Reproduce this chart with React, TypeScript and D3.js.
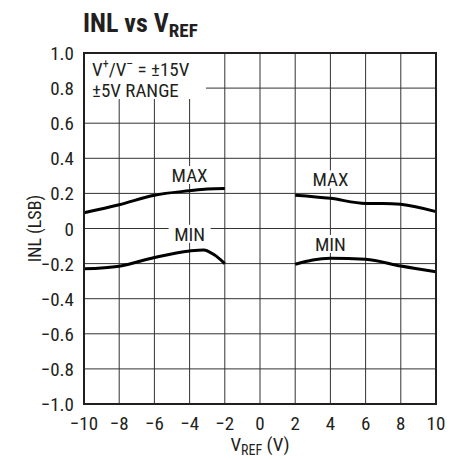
import React from "react";
import * as d3 from "d3";

// INL vs VREF, two segments per series (gap around 0V)
const vrefLeft = [-10, -8, -6, -4, -3, -2];
const maxLeft = [0.09, 0.135, 0.19, 0.215, 0.225, 0.228];
const vrefMinLeft = [-10, -8, -6, -4, -3.2, -2.6, -2];
const minLeft = [-0.23, -0.215, -0.165, -0.128, -0.122, -0.15, -0.2];
const vrefRight = [2, 4, 6, 7, 8, 10];
const maxRight = [0.19, 0.172, 0.143, 0.143, 0.138, 0.096];
const vrefMinRight = [2, 3, 4, 6, 8, 10];
const minRight = [-0.204, -0.179, -0.17, -0.175, -0.214, -0.246];

const xTicks = [-10, -8, -6, -4, -2, 0, 2, 4, 6, 8, 10];
const yTicks = [1.0, 0.8, 0.6, 0.4, 0.2, 0, -0.2, -0.4, -0.6, -0.8, -1.0];

const W = 459;
const H = 460;
const FONT = "'Liberation Sans Narrow', 'Roboto Condensed', 'Arial Narrow', 'Liberation Sans', sans-serif";

const fmtY = (v: number) => (v === 0 ? "0" : v.toFixed(1).replace("-", "\u2212"));
const fmtX = (v: number) => String(v).replace("-", "\u2212");

export default function App() {
  const x = d3.scaleLinear().domain([-10, 10]).range([84, 436]);
  const y = d3.scaleLinear().domain([-1, 1]).range([404, 53]);

  const line = d3
    .line<[number, number]>()
    .x((d) => x(d[0]))
    .y((d) => y(d[1]))
    .curve(d3.curveMonotoneX);

  const series: [number, number][][] = [
    vrefLeft.map((v, i) => [v, maxLeft[i]]),
    vrefMinLeft.map((v, i) => [v, minLeft[i]]),
    vrefRight.map((v, i) => [v, maxRight[i]]),
    vrefMinRight.map((v, i) => [v, minRight[i]]),
  ];

  const labels = [
    { t: "MAX", vx: -4, vy: 0.265 },
    { t: "MIN", vx: -4, vy: -0.07 },
    { t: "MAX", vx: 4, vy: 0.24 },
    { t: "MIN", vx: 4, vy: -0.128 },
  ];

  return (
    <svg width={W} height={H} style={{ position: "absolute", left: 0, top: 0, background: "#fff" }} fontFamily={FONT}>
      <rect width={W} height={H} fill="#fff" />
      <text x={83} y={32} fontSize={26} fontWeight="bold" fill="#231f20">
        INL vs V<tspan fontSize={19} dy={5}>REF</tspan>
      </text>

      {/* grid */}
      {xTicks.slice(1, -1).map((t) => (
        <line key={"gx" + t} x1={x(t)} x2={x(t)} y1={y(-1)} y2={y(1)} stroke="#333" strokeWidth={1} />
      ))}
      {yTicks.slice(1, -1).map((t) => (
        <line key={"gy" + t} x1={x(-10)} x2={x(10)} y1={y(t)} y2={y(t)} stroke="#333" strokeWidth={1} />
      ))}

      {/* annotation box */}
      <rect x={85} y={54} width={121} height={45} fill="#fff" />
      <text x={92} y={76} fontSize={19} fill="#231f20">
        V<tspan fontSize={12} dy={-8}>+</tspan>
        <tspan dy={8}>/V</tspan>
        <tspan fontSize={12} dy={-8}>{"\u2013"}</tspan>
        <tspan dy={8}> = ±15V</tspan>
      </text>
      <text x={92} y={97} fontSize={19} fill="#231f20">
        ±5V RANGE
      </text>

      {/* curve labels */}
      {labels.map((l, i) => (
        <g key={"lb" + i}>
          <rect x={x(l.vx) - 21} y={y(l.vy) - 16} width={42} height={18} fill="#fff" />
          <text x={x(l.vx)} y={y(l.vy)} fontSize={19} textAnchor="middle" fill="#231f20">
            {l.t}
          </text>
        </g>
      ))}

      {/* curves */}
      {series.map((s, i) => (
        <path key={"s" + i} d={line(s) || ""} fill="none" stroke="#000" strokeWidth={3} />
      ))}

      {/* frame */}
      <rect x={x(-10)} y={y(1)} width={x(10) - x(-10)} height={y(-1) - y(1)} fill="none" stroke="#231f20" strokeWidth={2} />

      {/* tick labels */}
      {yTicks.map((t) => (
        <text key={"ty" + t} x={74} y={y(t) + 7} fontSize={19} textAnchor="end" fill="#231f20">
          {fmtY(t)}
        </text>
      ))}
      {xTicks.map((t) => (
        <text key={"tx" + t} x={x(t)} y={430} fontSize={19} textAnchor="middle" fill="#231f20">
          {fmtX(t)}
        </text>
      ))}

      <text transform={`translate(41,${y(0)}) rotate(-90)`} fontSize={18} textAnchor="middle" fill="#231f20">
        INL (LSB)
      </text>
      <text x={260} y={451} fontSize={19} textAnchor="middle" fill="#231f20">
        V<tspan fontSize={14} dy={4}>REF</tspan>
        <tspan dy={-4}> (V)</tspan>
      </text>
    </svg>
  );
}
